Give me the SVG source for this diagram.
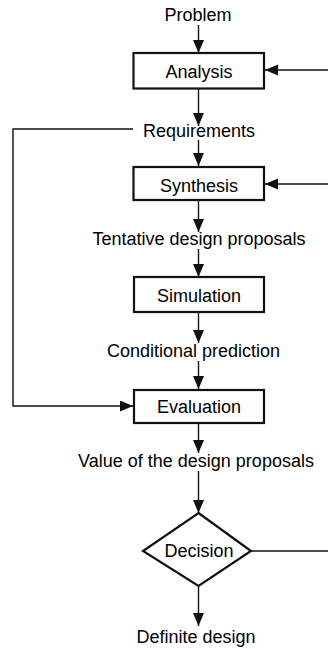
<svg xmlns="http://www.w3.org/2000/svg" width="328" height="649" viewBox="0 0 328 649">
<style>
  text { font-family: "Liberation Sans", Arial, sans-serif; font-size: 18px; fill: #000; text-anchor: middle; }
  .box { fill: #fff; stroke: #111; stroke-width: 2.2; }
  .conn { fill: none; stroke: #111; stroke-width: 1.4; }
</style>
<defs>
  <marker id="ah" markerUnits="userSpaceOnUse" markerWidth="14" markerHeight="12" refX="13" refY="5.5" orient="auto">
    <path d="M0,0 L13,5.5 L0,11 Z" fill="#111"/>
  </marker>
</defs>
<rect width="328" height="649" fill="#fff"/>
<g id="connectors">
  <path class="conn" d="M198.5,25 V53" marker-end="url(#ah)"/>
  <path class="conn" d="M328,70 H265" marker-end="url(#ah)"/>
  <path class="conn" d="M198.5,89 V126" marker-end="url(#ah)"/>
  <path class="conn" d="M198.5,140 V166" marker-end="url(#ah)"/>
  <path class="conn" d="M133,129 H13 V406 H133" marker-end="url(#ah)"/>
  <path class="conn" d="M328,184 H265" marker-end="url(#ah)"/>
  <path class="conn" d="M198.5,200 V232" marker-end="url(#ah)"/>
  <path class="conn" d="M198.5,249 V277" marker-end="url(#ah)"/>
  <path class="conn" d="M198.5,312 V343" marker-end="url(#ah)"/>
  <path class="conn" d="M198.5,361 V389" marker-end="url(#ah)"/>
  <path class="conn" d="M198.5,423 V453" marker-end="url(#ah)"/>
  <path class="conn" d="M198.5,471 V513" marker-end="url(#ah)"/>
  <path class="conn" d="M251,551 H328"/>
  <path class="conn" d="M198.5,586 V626" marker-end="url(#ah)"/>
</g>
<g id="problem"><text x="198" y="21">Problem</text></g>
<g id="analysis"><rect class="box" x="133.5" y="53" width="130.5" height="35.5"/><text x="199" y="78">Analysis</text></g>
<g id="requirements"><text x="199" y="137">Requirements</text></g>
<g id="synthesis"><rect class="box" x="133.5" y="167" width="130.5" height="33"/><text x="199" y="192">Synthesis</text></g>
<g id="tentative"><text x="199" y="245">Tentative design proposals</text></g>
<g id="simulation"><rect class="box" x="134" y="277" width="130" height="35"/><text x="199" y="302">Simulation</text></g>
<g id="conditional"><text x="193.5" y="357">Conditional prediction</text></g>
<g id="evaluation"><rect class="box" x="134" y="390" width="130" height="33"/><text x="199" y="413">Evaluation</text></g>
<g id="value"><text x="196" y="467">Value of the design proposals</text></g>
<g id="decision"><path class="box" d="M198.5,513 L251,551 L198.5,586 L143,551 Z"/><text x="199" y="557">Decision</text></g>
<g id="definite"><text x="196" y="643">Definite design</text></g>
</svg>
